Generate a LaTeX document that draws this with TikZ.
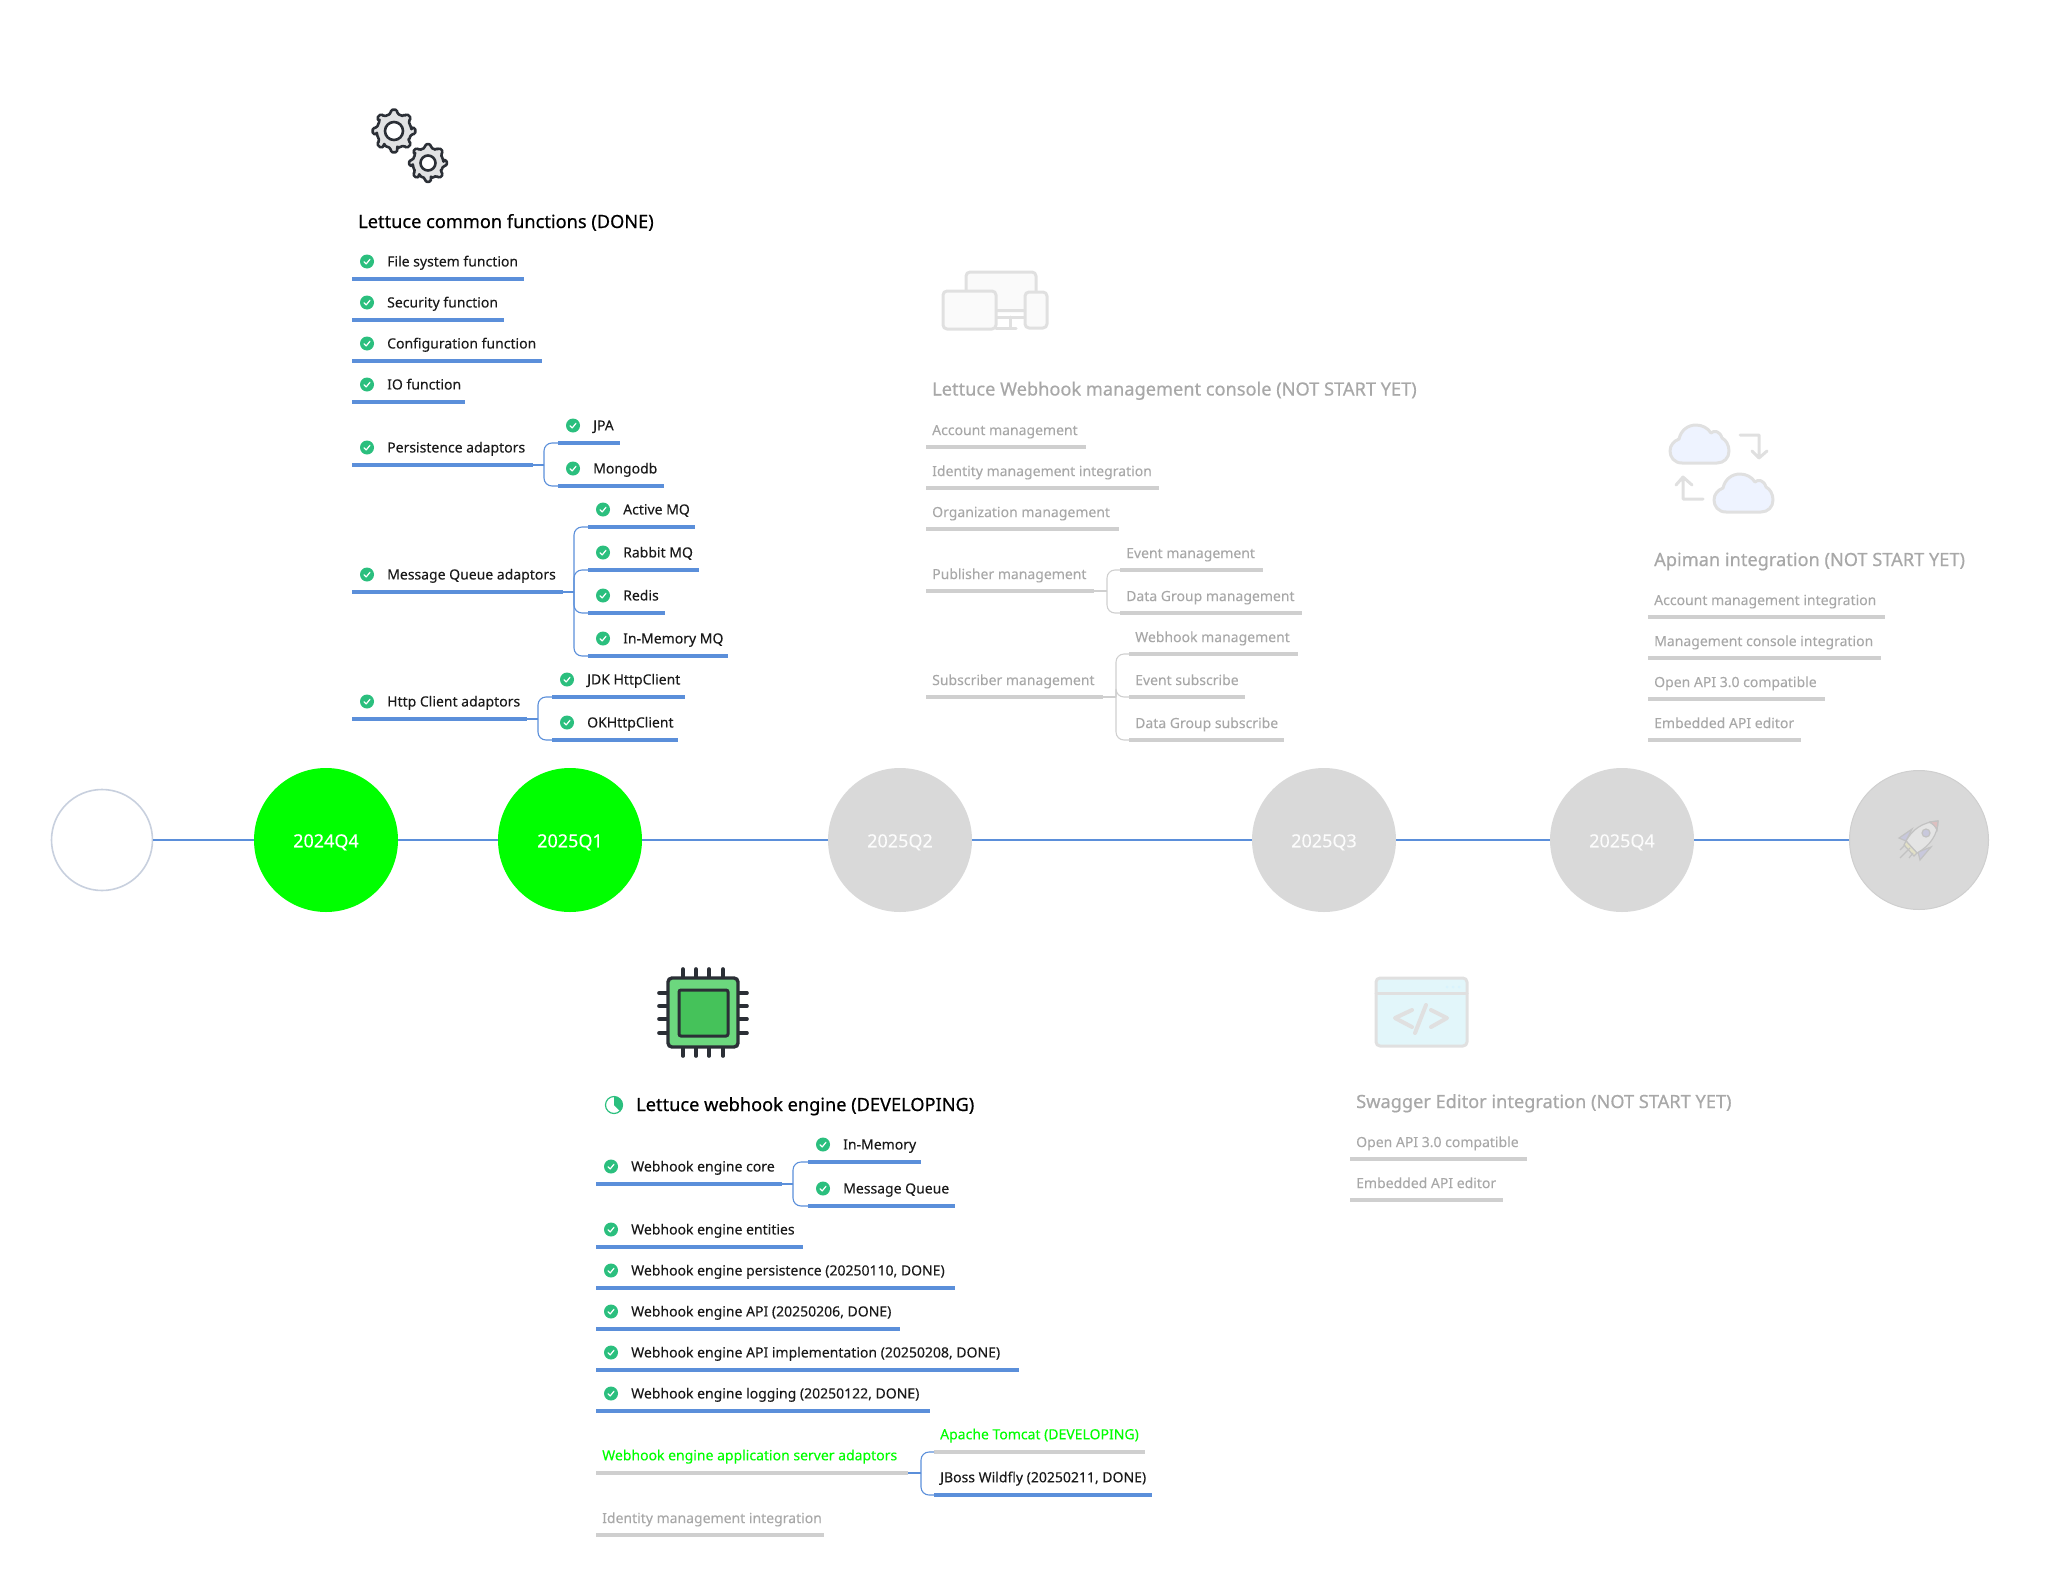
\documentclass[tikz,border=0pt]{standalone}
\usepackage{fontspec}
\usepackage{xcolor}
\usepackage{tikz}
\setmainfont{Noto Sans}
\newfontfamily\titlefont[FakeBold=0.6]{Noto Sans}
\newfontfamily\itemfont[FakeBold=0.1]{Noto Sans}
\definecolor{LTBlue}{HTML}{5B8FDA}
\definecolor{LTInk}{HTML}{1A1A1A}
\definecolor{LTGreen}{HTML}{00FF00}
\definecolor{LTCheck}{HTML}{2BBF7E}
\definecolor{LTGrey}{HTML}{A8A8A8}
\definecolor{LTRule}{HTML}{CFCFCF}
\definecolor{LTDisc}{HTML}{D9D9D9}
\definecolor{LTFaint}{HTML}{E0E0E0}
\definecolor{LTIcon}{HTML}{2B2F36}
\definecolor{LTOutline}{HTML}{C8D0DE}
\definecolor{LTChipOut}{HTML}{6CD77E}
\definecolor{LTChipIn}{HTML}{45C25A}
\definecolor{LTCloud}{HTML}{EEF3FF}
\definecolor{LTEditor}{HTML}{E2F6FA}
\definecolor{LTRocket}{HTML}{C2C2C2}
\tikzset{
  itemtext/.style={anchor=west,inner sep=0pt,text height=11pt,text depth=3.5pt,font=\itemfont\fontsize{14}{16}\selectfont},
  headtext/.style={anchor=west,inner sep=0pt,text height=13pt,text depth=4pt,font=\titlefont\fontsize{18.2}{20}\selectfont},
  rulemain/.style={LTBlue,line width=3.2pt},
  rulegrey/.style={LTRule,line width=3.2pt},
  linkmain/.style={LTBlue,line width=1.1pt},
  linkgrey/.style={LTRule,line width=1.1pt},
  branch/.style={rounded corners=8pt},
  disc/.style={circle,minimum size=144pt,inner sep=0pt,fill=LTDisc,text=white!92!LTDisc,text height=14.5pt,text depth=0pt,font=\itemfont\fontsize{18}{20}\selectfont},
  faintline/.style={LTFaint,line width=3pt,line cap=round,line join=round},
  chkicon/.pic={
    \fill[LTCheck] (0,0) circle[radius=7];
    \draw[white,line width=1.2pt,line cap=round,line join=round] (-3,0.2) -- (-0.8,2.4) -- (3,-2.2);
  },
  gearicon/.pic={
    \draw[fill=LTIcon!14,draw=LTIcon,line width=2.6pt,line join=round,rounded corners=1.5pt] (-10:\gearroot)
      \foreach \a in {0,45,...,315} { -- (\a-11:\gearroot) -- (\a-8:\gearout) -- (\a+8:\gearout) -- (\a+11:\gearroot) -- (\a+34:\gearroot)} -- cycle;
    \draw[fill=white,draw=LTIcon,line width=2.6pt] (0,0) circle[radius=\gearhole];
  },
  cloudicon/.pic={
    \draw[fill=LTCloud,draw=LTFaint,line width=3pt,line join=round] (12,38) .. controls (4,38) and (0,32) .. (0,26)
      .. controls (0,20) and (4,16) .. (9,14) .. controls (11,5) and (18,0) .. (26,0)
      .. controls (32,0) and (38,3) .. (41,8) .. controls (44,5) and (50,6) .. (52,13)
      .. controls (56,15) and (59,20) .. (59,26) .. controls (59,33) and (54,38) .. (47,38) -- cycle;
  }
}

\begin{document}
\begin{tikzpicture}[x=1pt,y=-1pt]
    \useasboundingbox (0,0) rectangle (2070,1587);
    % timeline
    \node[circle,minimum size=101pt,inner sep=0pt,draw=LTOutline,line width=1.6pt,fill=white] (start) at (102,840) {};
    \node[disc,fill=LTGreen,text=white] (q1) at (326,840) {2024Q4};
    \node[disc,fill=LTGreen,text=white] (q2) at (570,840) {2025Q1};
    \node[disc] (q3) at (900,840) {2025Q2};
    \node[disc] (q4) at (1324,840) {2025Q3};
    \node[disc] (q5) at (1622,840) {2025Q4};
    \node[circle,minimum size=139pt,inner sep=0pt,fill=LTDisc,draw=LTRule,line width=1pt] (goal) at (1919,840) {};
    \foreach \a/\b in {start/q1,q1/q2,q2/q3,q3/q4,q4/q5,q5/goal} {
      \draw[LTBlue,line width=2.4pt] (\a) -- (\b);
    }
    % rocket
    \fill[blue!8!LTDisc,draw=LTRocket,line width=1.2pt] (1899,838) -- (1912,829) -- (1906,841) -- cycle;
    \fill[blue!8!LTDisc,draw=LTRocket,line width=1.2pt] (1931,847) -- (1920,860) -- (1918,852) -- cycle;
    \fill[LTDisc!70!white,draw=LTRocket,line width=1.2pt] (1906,841) .. controls (1912,830) and (1922,822) .. (1938,821) .. controls (1938,834) and (1930,846) .. (1917,853) -- cycle;
    \fill[red!12!LTDisc,draw=LTRocket,line width=1.2pt] (1929,822) -- (1938,821) -- (1937,830) .. controls (1935,826) and (1933,824) .. (1929,822);
    \fill[yellow!12!LTDisc,draw=LTRocket,line width=1.2pt] (1906,841) -- (1917,853) -- (1914,856) -- (1904,845) -- cycle;
    \fill[blue!8!LTDisc,draw=LTRocket,line width=1.2pt] (1926,833) circle[radius=4];
    \draw[LTRocket,line width=1.2pt] (1900,850) -- (1905,845) (1900,858) -- (1910,848) (1909,858) -- (1913,853);
    % gears
    \def\gearout{21.5}\def\gearroot{17.5}\def\gearhole{9}
    \pic at (394,131) {gearicon};
    \def\gearout{19}\def\gearroot{15.5}\def\gearhole{7.5}
    \pic at (428,163) {gearicon};
    % chip
    \foreach \p in {683,696,709,723} {
      \draw[LTIcon,line width=3.6pt,line cap=round] (\p,969) -- (\p,1056);
    }
    \foreach \p in {993,1006,1019,1033} {
      \draw[LTIcon,line width=3.6pt,line cap=round] (659,\p) -- (747,\p);
    }
    \draw[fill=LTChipOut,draw=LTIcon,line width=3.4pt,rounded corners=4pt] (668,978) rectangle (738,1047);
    \draw[fill=LTChipIn,draw=LTIcon,line width=3pt,rounded corners=2pt] (679,990) rectangle (728,1036);
    % devices
    \draw[faintline,fill=white!98!black,rounded corners=4pt] (966,313) -- (966,272) -- (1036,272) -- (1036,313);
    \draw[faintline] (996,310) -- (1025,310) (996,317) -- (1025,317) (1010,317) -- (1010,328) (996,328) -- (1016,328);
    \draw[faintline,fill=white!98!black,rounded corners=4pt] (943,291) rectangle (996,329);
    \draw[faintline,fill=white!98!black,rounded corners=4pt] (1025,292) rectangle (1047,328);
    % clouds
    \pic at (1670,425) {cloudicon};
    \pic at (1714,474) {cloudicon};
    \draw[faintline] (1740,435) -- (1759,435) -- (1759,458) (1752,451) -- (1759,458) -- (1767,451);
    \draw[faintline] (1703,499) -- (1683,499) -- (1683,477) (1676,485) -- (1683,477) -- (1692,485);
    % editor
    \draw[faintline,fill=LTEditor,rounded corners=4pt] (1376,978) rectangle (1467,1046);
    \draw[faintline] (1376,993) -- (1467,993);
    \draw[faintline,line width=4pt] (1412,1010) -- (1395,1018) -- (1412,1027) (1431,1010) -- (1447,1018) -- (1431,1027) (1426,1005) -- (1415,1033);
    \foreach \p in {1447,1453,1459} {
      \fill[cyan!15] (\p,987) circle[radius=1.5];
    }
    % headings
    \node[headtext,text=black] (commonhead) at (358,223.5) {Lettuce common functions (DONE)};
    \node[headtext,text=black] (enginehead) at (636,1106.5) {Lettuce webhook engine (DEVELOPING)};
    \node[headtext,text=LTGrey] (consolehead) at (932,391) {Lettuce Webhook management console (NOT START YET)};
    \node[headtext,text=LTGrey] (apimanhead) at (1654,561.5) {Apiman integration (NOT START YET)};
    \node[headtext,text=LTGrey] (swaggerhead) at (1356,1103.5) {Swagger Editor integration (NOT START YET)};
    \draw[LTCheck,line width=1.2pt] (614,1105) circle[radius=8.5];
    \fill[LTCheck] (614,1105) -- ++(-90:8.5) arc[start angle=-90,end angle=45,radius=8.5] -- cycle;
    % finished items
    \foreach \n/\x/\ly/\lx/\t in {
      files/352/279/524/File system function,
      security/352/320/504/Security function,
      config/352/361/542/Configuration function,
      io/352/402/465/IO function,
      persist/352/465/533/Persistence adaptors,
      jpa/558/443/620/JPA,
      mongo/558/486/664/Mongodb,
      queue/352/592/563/Message Queue adaptors,
      active/588/527/695/Active MQ,
      rabbit/588/570/699/Rabbit MQ,
      redis/588/613/665/Redis,
      memmq/588/656/728/In-Memory MQ,
      http/352/719/527/Http Client adaptors,
      jdk/552/697/685/JDK HttpClient,
      okhttp/552/740/678/OKHttpClient,
      core/596/1184/782/Webhook engine core,
      inmem/808/1162/921/In-Memory,
      msgq/808/1206/955/Message Queue,
      entities/596/1247/803/Webhook engine entities,
      wpersist/596/1288/955/{Webhook engine persistence (20250110, DONE)},
      wapi/596/1329/900/{Webhook engine API (20250206, DONE)},
      wimpl/596/1370/1019/{Webhook engine API implementation (20250208, DONE)},
      wlog/596/1411/930/{Webhook engine logging (20250122, DONE)}} {
      \coordinate (\n-a) at (\x,\ly);
      \coordinate (\n-b) at (\lx,\ly);
      \draw[rulemain] (\n-a) -- (\n-b);
      \pic at (\x+15,\ly-17.5) {chkicon};
      \node[itemtext,text=LTInk] (\n) at (\x+35,\ly-16.3) {\t};
    }
    % items not started
    \foreach \n/\x/\ly/\lx/\t in {
      account/926/447/1086/Account management,
      identity/926/488/1159/Identity management integration,
      orgs/926/529/1119/Organization management,
      publish/926/591/1094/Publisher management,
      pubevent/1120/570/1263/Event management,
      pubdata/1120/613/1302/Data Group management,
      subscr/926/697/1103/Subscriber management,
      subhook/1129/654/1298/Webhook management,
      subevent/1129/697/1245/Event subscribe,
      subdata/1129/740/1284/Data Group subscribe,
      apiacc/1648/617/1885/Account management integration,
      apicon/1648/658/1881/Management console integration,
      apiopen/1648/699/1825/Open API 3.0 compatible,
      apiedit/1648/740/1801/Embedded API editor,
      swgopen/1350/1159/1527/Open API 3.0 compatible,
      swgedit/1350/1200/1503/Embedded API editor,
      wident/596/1535/824/Identity management integration} {
      \coordinate (\n-a) at (\x,\ly);
      \coordinate (\n-b) at (\lx,\ly);
      \draw[rulegrey] (\n-a) -- (\n-b);
      \node[itemtext,text=LTGrey] (\n) at (\x+6,\ly-15.7) {\t};
    }
    % adaptors in progress
    \foreach \n/\x/\ly/\lx/\r/\c/\t in {
      wserver/596/1473/908/rulegrey/LTGreen/Webhook engine application server adaptors,
      tomcat/934/1452/1145/rulegrey/LTGreen/Apache Tomcat (DEVELOPING),
      jboss/934/1495/1152/rulemain/LTInk/{JBoss Wildfly (20250211, DONE)}} {
      \coordinate (\n-a) at (\x,\ly);
      \coordinate (\n-b) at (\lx,\ly);
      \draw[\r] (\n-a) -- (\n-b);
      \node[itemtext,text=\c] (\n) at (\x+6,\ly-16.5) {\t};
    }
    % branches
    \foreach \p/\d/\s/\kids in {
      persist/11/linkmain/{jpa,mongo},
      queue/11/linkmain/{active,rabbit,redis,memmq},
      http/11/linkmain/{jdk,okhttp},
      core/11/linkmain/{inmem,msgq},
      wserver/13/linkmain/{tomcat,jboss},
      publish/13/linkgrey/{pubevent,pubdata},
      subscr/13/linkgrey/{subhook,subevent,subdata}} {
      \draw[\s] (\p-b) -- ++(\d,0) coordinate (\p-j);
      \foreach \k in \kids {
        \draw[\s,branch] (\p-j) |- (\k-a);
      }
    }
  \end{tikzpicture}
\end{document}
